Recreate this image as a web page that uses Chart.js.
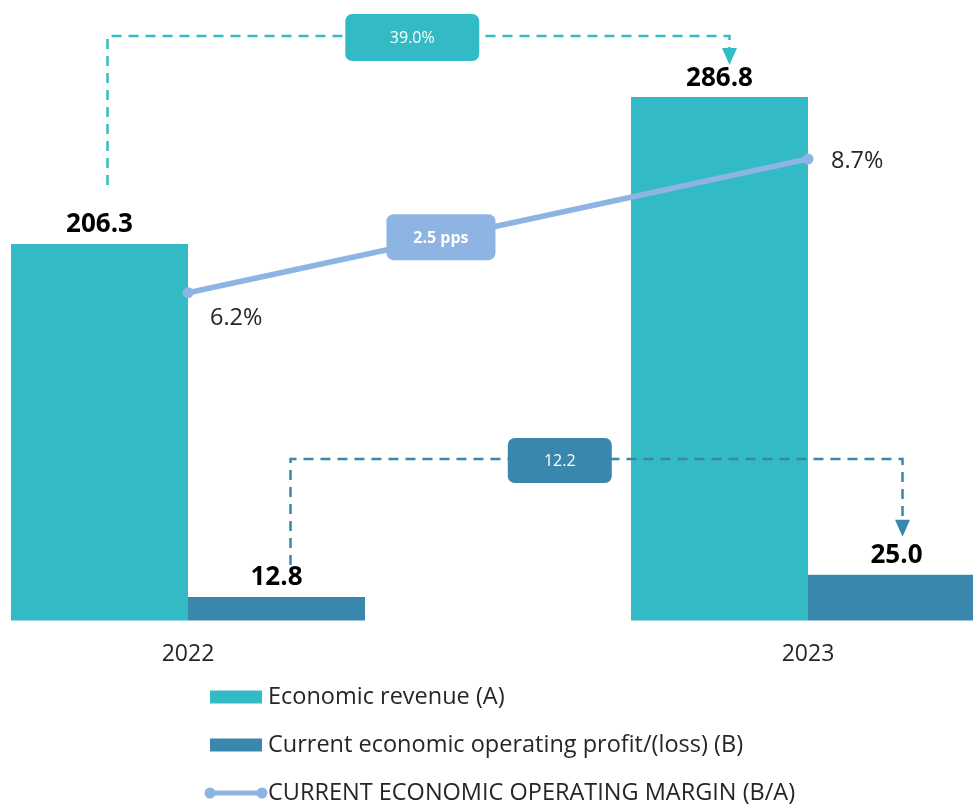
<!DOCTYPE html>
<html>
<head>
<meta charset="utf-8">
<script src="https://cdn.jsdelivr.net/npm/chart.js"></script>
<style>
  html, body { margin: 0; padding: 0; background: #fff; }
  #wrap { width: 973px; height: 806px; }
</style>
</head>
<body>
<div id="wrap"><canvas id="myChart"></canvas></div>
<script>
// Data
const years = ['2022', '2023'];
const revenue = [206.3, 286.8];
const profit = [12.8, 25.0];
const margin = [6.2, 8.7];
const seriesNames = ['Economic revenue (A)', 'Current economic operating profit/(loss) (B)', 'CURRENT ECONOMIC OPERATING MARGIN (B/A)'];
const revenueGrowth = '39.0%';
const profitGrowth = '12.2';
const marginChange = '2.5 pps';

const teal = '#33BBC5';
const blue = '#3A87AD';
const lineBlue = '#8EB4E3';
const fam = '"Open Sans", sans-serif';

function box(ctx, cx, cy, w, h, fill, text, bold) {
    ctx.save();
    ctx.fillStyle = fill;
    ctx.beginPath();
    ctx.roundRect(cx - w / 2, cy - h / 2, w, h, 7);
    ctx.fill();
    ctx.fillStyle = '#fff';
    ctx.font = (bold ? 'bold ' : '') + '16px ' + fam;
    ctx.textAlign = 'center';
    ctx.textBaseline = 'middle';
    ctx.fillText(text, cx, cy + 1);
    ctx.restore();
}

function arrowHead(ctx, x, tipY, w, h, col) {
    ctx.fillStyle = col;
    ctx.beginPath();
    ctx.moveTo(x - w / 2, tipY - h);
    ctx.lineTo(x + w / 2, tipY - h);
    ctx.lineTo(x, tipY);
    ctx.closePath();
    ctx.fill();
}

// dashed elbow from bar A (2022) to bar B (2023), with a label box on it
function connector(ctx, x1, y1, x2, y2, yTop, col, label, frac, bw, bh) {
    ctx.save();
    ctx.strokeStyle = col;
    ctx.lineWidth = 2.5;
    ctx.setLineDash([10, 7]);
    ctx.beginPath();
    ctx.moveTo(x1, y1);
    ctx.lineTo(x1, yTop);
    ctx.lineTo(x2, yTop);
    ctx.lineTo(x2, y2 - 16);
    ctx.stroke();
    ctx.setLineDash([]);
    arrowHead(ctx, x2, y2, 15, 17, col);
    ctx.restore();
    box(ctx, x1 + (x2 - x1) * frac, yTop + 1.5, bw, bh, col, label, false);
}

const labelPlugin = {
    id: 'labels',
    afterDatasetsDraw(chart) {
        const ctx = chart.ctx;
        const revMeta = chart.getDatasetMeta(0);
        const proMeta = chart.getDatasetMeta(1);
        const lineMeta = chart.getDatasetMeta(2);

        // connectors
        const r0 = revMeta.data[0], r1 = revMeta.data[1];
        connector(ctx, r0.x + 8, r0.y - 59, r1.x + 10, r1.y - 32, 36, teal, revenueGrowth, 0.49, 134, 47);
        const p0 = proMeta.data[0], p1 = proMeta.data[1];
        connector(ctx, p0.x + 14, p0.y - 32, p1.x + 6, p1.y - 38, 459, blue, profitGrowth, 0.44, 104, 45);

        // bar values
        ctx.save();
        ctx.fillStyle = '#000';
        ctx.font = 'bold 26px ' + fam;
        ctx.textAlign = 'center';
        ctx.textBaseline = 'middle';
        [[revMeta, revenue], [proMeta, profit]].forEach(([meta, vals]) => {
            meta.data.forEach((el, i) => {
                ctx.fillText(vals[i].toFixed(1), el.x, el.y - 19);
            });
        });
        ctx.restore();

        // line labels
        const l0 = lineMeta.data[0], l1 = lineMeta.data[1];
        ctx.save();
        ctx.fillStyle = '#262626';
        ctx.font = '23.5px ' + fam;
        ctx.textAlign = 'left';
        ctx.textBaseline = 'middle';
        ctx.fillText(margin[0].toFixed(1) + '%', l0.x + 22, l0.y + 26);
        ctx.fillText(margin[1].toFixed(1) + '%', l1.x + 23, l1.y + 2);
        ctx.restore();

        // change box sitting on the line
        const t = 0.408;
        box(ctx, l0.x + (l1.x - l0.x) * t, l0.y + (l1.y - l0.y) * t - 1, 109, 46, lineBlue, marginChange, true);
    }
};

// legend stacked in one column under the axis
const legendPlugin = {
    id: 'stackedLegend',
    afterDraw(chart) {
        const ctx = chart.ctx;
        const x0 = 210, top = 697, step = 48;
        chart.data.datasets.forEach((ds, i) => {
            const y = top + i * step;
            ctx.save();
            if (ds.type === 'line') {
                ctx.strokeStyle = ds.borderColor;
                ctx.lineWidth = 5;
                ctx.beginPath();
                ctx.moveTo(x0, y);
                ctx.lineTo(x0 + 52, y);
                ctx.stroke();
                ctx.fillStyle = ds.borderColor;
                [x0, x0 + 52].forEach(px => {
                    ctx.beginPath();
                    ctx.arc(px, y, 5.5, 0, Math.PI * 2);
                    ctx.fill();
                });
            } else {
                ctx.fillStyle = ds.backgroundColor;
                ctx.fillRect(x0, y - 6.5, 52, 13);
            }
            ctx.fillStyle = '#262626';
            ctx.font = '23.5px ' + fam;
            ctx.textAlign = 'left';
            ctx.textBaseline = 'middle';
            ctx.fillText(ds.label, x0 + 58, y);
            ctx.restore();
        });
    }
};

const ctx = document.getElementById('myChart');

const myChart = new Chart(ctx, {
    type: 'bar',
    data: {
        labels: years,
        datasets: [
            { label: seriesNames[0], data: revenue, backgroundColor: teal, yAxisID: 'y', order: 1, clip: false, categoryPercentage: 0.571, barPercentage: 1 },
            { label: seriesNames[1], data: profit, backgroundColor: blue, yAxisID: 'y', order: 1, clip: false, categoryPercentage: 0.571, barPercentage: 1 },
            { type: 'line', label: seriesNames[2], data: margin, yAxisID: 'y2', order: 0, clip: false,
              borderColor: lineBlue, backgroundColor: lineBlue, borderWidth: 5.5,
              pointRadius: 5.5, pointBorderWidth: 0, pointBackgroundColor: lineBlue }
        ]
    },
    options: {
        responsive: true,
        maintainAspectRatio: false,
        animation: false,
        layout: { padding: { left: 188, right: 165, top: 0, bottom: 118 } },
        plugins: { legend: { display: false }, tooltip: { enabled: false } },
        scales: {
            x: {
                offset: false,
                grid: { display: false, drawTicks: false },
                border: { display: false },
                ticks: { color: '#262626', font: { family: fam, size: 23 }, padding: 20 }
            },
            y: { display: false, min: 0, max: 337 },
            y2: { display: false, position: 'right', min: 0.073, max: 11.57 }
        }
    },
    plugins: [labelPlugin, legendPlugin]
});
</script>
</body>
</html>
